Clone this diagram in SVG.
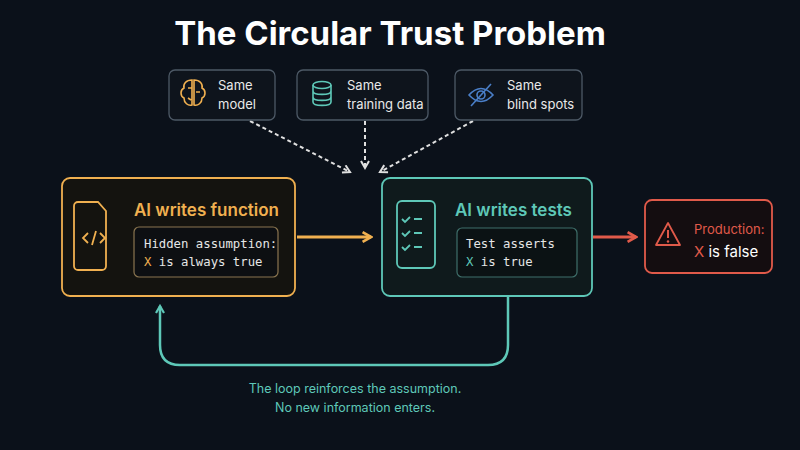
<svg xmlns="http://www.w3.org/2000/svg" width="800" height="450" viewBox="0 0 800 450">
<defs>
<style>
.s{font-family:"Inter","Liberation Sans",sans-serif}
.m{font-family:"DejaVu Sans Mono","Liberation Mono",monospace;font-size:12.3px;fill:#e6e6e6}
.top{fill:#0e141c;stroke:#4d5966;stroke-width:1.3}
.tt{font-family:"Inter","Liberation Sans",sans-serif;font-size:13px;fill:#e8e8e8}
</style>
<marker id="aw" viewBox="0 0 10 10" refX="8" refY="5" markerWidth="5" markerHeight="5" orient="auto"><path d="M1,1 L8,5 L1,9" fill="none" stroke="#e0e0e0" stroke-width="2"/></marker>
<marker id="ao" viewBox="0 0 10 10" refX="8" refY="5" markerWidth="4" markerHeight="4" orient="auto"><path d="M1,1 L8,5 L1,9" fill="none" stroke="#f0b050" stroke-width="2.2"/></marker>
<marker id="ar" viewBox="0 0 10 10" refX="8" refY="5" markerWidth="4" markerHeight="4" orient="auto"><path d="M1,1 L8,5 L1,9" fill="none" stroke="#e05a4a" stroke-width="2.2"/></marker>
<marker id="at" viewBox="0 0 10 10" refX="8" refY="5" markerWidth="4" markerHeight="4" orient="auto"><path d="M1,1 L8,5 L1,9" fill="none" stroke="#5ec8b8" stroke-width="2.2"/></marker>
</defs>
<rect width="800" height="450" fill="#0b111a"/>
<text x="390" y="45" text-anchor="middle" class="s" font-size="33" font-weight="700" fill="#ffffff">The Circular Trust Problem</text>

<g id="connectors" fill="none">
<path d="M250,121 L350,172" stroke="#e0e0e0" stroke-width="2" stroke-dasharray="4,3" marker-end="url(#aw)"/>
<path d="M365,121 L365,168" stroke="#e0e0e0" stroke-width="2" stroke-dasharray="4,3" marker-end="url(#aw)"/>
<path d="M473,121 L380,172" stroke="#e0e0e0" stroke-width="2" stroke-dasharray="4,3" marker-end="url(#aw)"/>
<path d="M297,237 L371,237" stroke="#f0b050" stroke-width="3" marker-end="url(#ao)"/>
<path d="M593,237 L636,237" stroke="#e05a4a" stroke-width="3" marker-end="url(#ar)"/>
<path d="M508,297 L508,345 Q508,365 488,365 L180,365 Q160,365 160,345 L160,306" stroke="#5ec8b8" stroke-width="2.5" marker-end="url(#at)"/>
</g>

<g id="same-model">
<rect class="top" x="169" y="70" width="106" height="50" rx="6"/>
<g fill="none" stroke="#f0b050" stroke-width="1.6"><path d="M192,80 c-6,0 -9,4 -8,8 c-4,2 -4,8 0,10 c0,5 4,8 8,7 z M194,80 c6,0 9,4 8,8 c4,2 4,8 0,10 c0,5 -4,8 -8,7 z M188,88 h4 M196,92 h4 M188,98 l3,2"/></g>
<text class="tt" x="218" y="90">Same</text><text class="tt" x="218" y="109">model</text>
</g>
<g id="same-training-data">
<rect class="top" x="297" y="70" width="131" height="50" rx="6"/>
<g fill="none" stroke="#5ec8b8" stroke-width="1.6"><ellipse cx="322" cy="85" rx="9" ry="3.5"/><path d="M313,85 v17 c0,4.5 18,4.5 18,0 v-17 M313,91 c0,4.5 18,4.5 18,0 M313,97 c0,4.5 18,4.5 18,0"/></g>
<text class="tt" x="347" y="90">Same</text><text class="tt" x="347" y="109">training data</text>
</g>
<g id="same-blind-spots">
<rect class="top" x="455" y="70" width="127" height="50" rx="6"/>
<g fill="none" stroke="#4a7fc8" stroke-width="1.6"><path d="M469,95 Q481,82 493,95 Q481,108 469,95 z"/><circle cx="481" cy="95" r="4"/><path d="M471,106 L491,84"/></g>
<text class="tt" x="507" y="90">Same</text><text class="tt" x="507" y="109">blind spots</text>
</g>

<g id="ai-writes-function">
<rect x="62" y="178" width="233" height="118" rx="8" fill="#14130f" stroke="#f0b050" stroke-width="1.8"/>
<path d="M78,202 h20 l8,9 v55 a4,4 0 0 1 -4,4 h-24 a4,4 0 0 1 -4,-4 v-60 a4,4 0 0 1 4,-4 z" fill="none" stroke="#f0b050" stroke-width="1.8"/>
<path d="M88,233 l-5,5 5,5 M100,233 l5,5 -5,5 M96,231 l-4,14" fill="none" stroke="#f0b050" stroke-width="1.8"/>
<text class="s" x="134" y="216" font-size="17" font-weight="600" fill="#f0b050">AI writes function</text>
<rect x="134" y="227" width="144" height="50" rx="5" fill="#0d0f12" stroke="#8a7550" stroke-width="1.2"/>
<text class="m" x="144" y="248">Hidden assumption:</text>
<text class="m" x="144" y="266"><tspan fill="#f0b050">X</tspan> is always true</text>
</g>

<g id="ai-writes-tests">
<rect x="382" y="178" width="210" height="118" rx="8" fill="#0f1a1c" stroke="#5ec8b8" stroke-width="1.8"/>
<rect x="397" y="201" width="38" height="67" rx="5" fill="none" stroke="#5ec8b8" stroke-width="1.8"/>
<g fill="none" stroke="#5ec8b8" stroke-width="1.8"><path d="M402,219 l3,3 5,-5 M414,219 h8 M402,233 l3,3 5,-5 M414,233 h8 M402,247 l3,3 5,-5 M414,247 h8"/></g>
<text class="s" x="455" y="216" font-size="17" font-weight="600" fill="#5ec8b8">AI writes tests</text>
<rect x="457" y="228" width="120" height="49" rx="5" fill="#0b1214" stroke="#3f6f6a" stroke-width="1.2"/>
<text class="m" x="466" y="248">Test asserts</text>
<text class="m" x="466" y="266"><tspan fill="#5ec8b8">X</tspan> is true</text>
</g>

<g id="production">
<rect x="645" y="200" width="127" height="73" rx="7" fill="#140d10" stroke="#e05a4a" stroke-width="1.8"/>
<path d="M668,223 l-12,22 h24 z" fill="none" stroke="#e05a4a" stroke-width="1.8" stroke-linejoin="round"/>
<path d="M668,230 v8" stroke="#e05a4a" stroke-width="2"/><circle cx="668" cy="241.5" r="1.2" fill="#e05a4a"/>
<text class="s" x="694" y="234" font-size="13" fill="#e05a4a">Production:</text>
<text class="s" x="694" y="257" font-size="15" fill="#ffffff"><tspan fill="#e05a4a">X</tspan> is false</text>
</g>

<text class="s" x="355" y="393" text-anchor="middle" font-size="12.5" fill="#5ec8b8">The loop reinforces the assumption.</text>
<text class="s" x="355" y="412" text-anchor="middle" font-size="12.5" fill="#5ec8b8">No new information enters.</text>
</svg>
